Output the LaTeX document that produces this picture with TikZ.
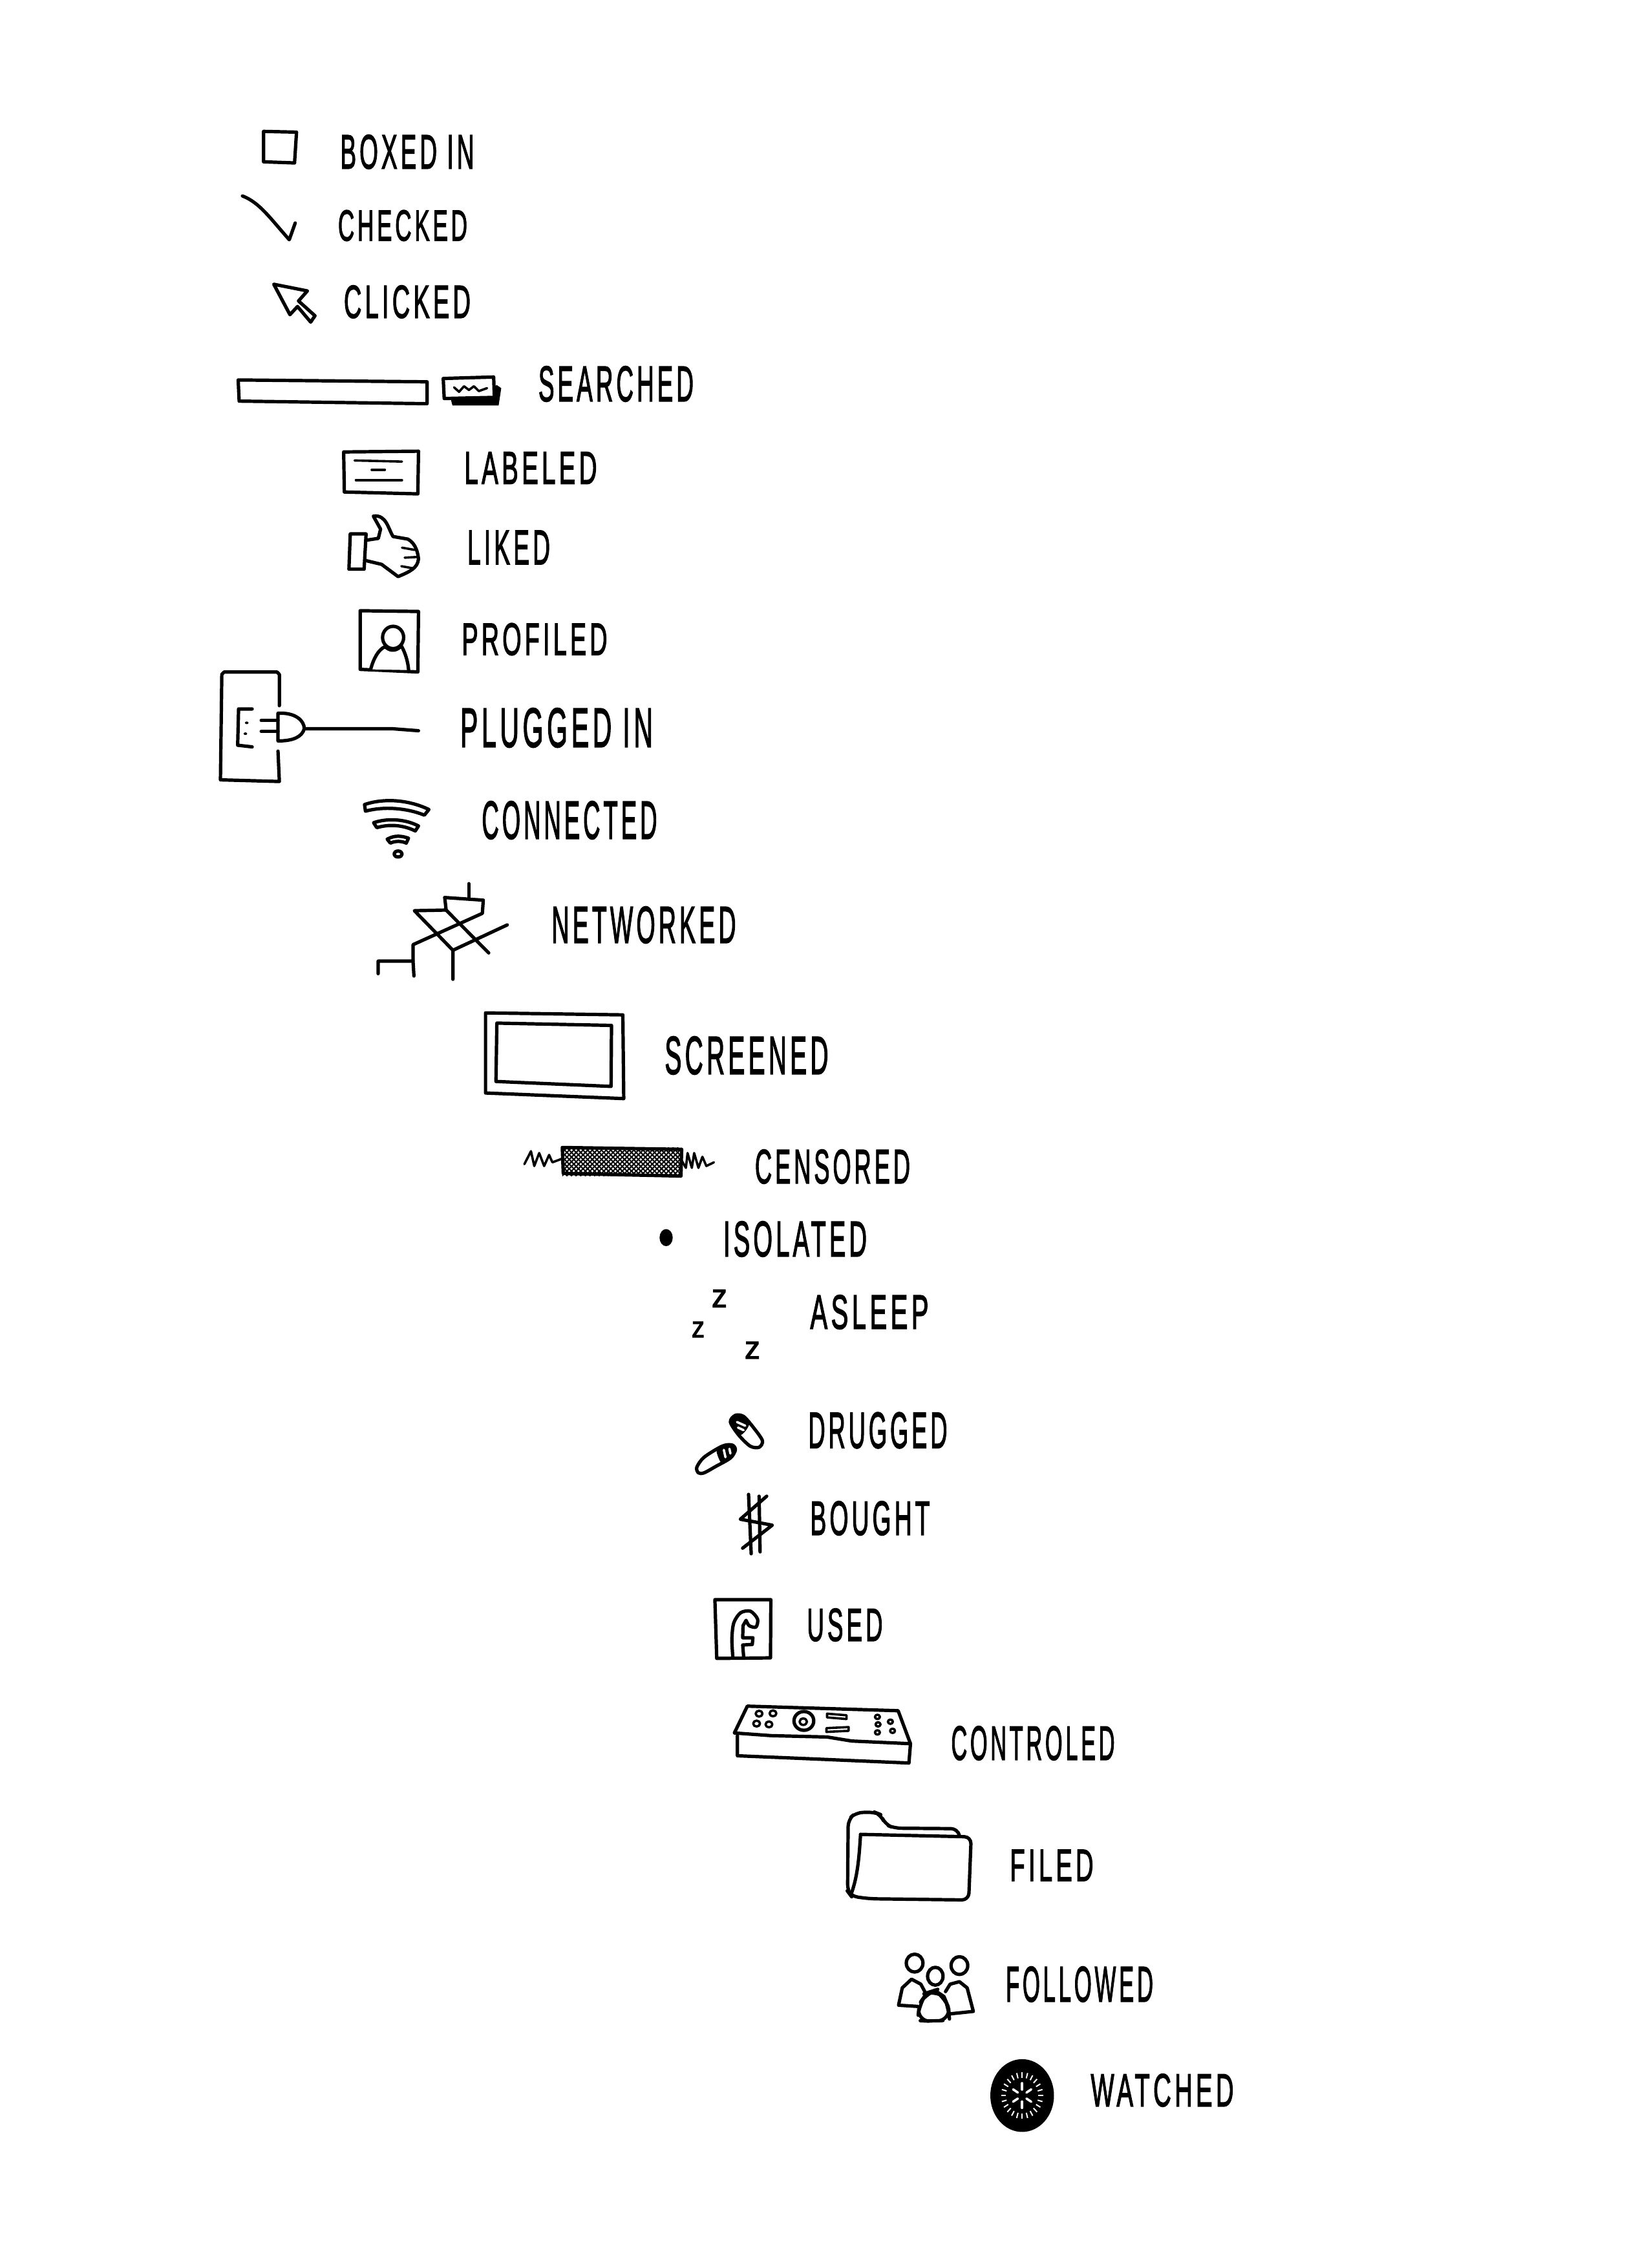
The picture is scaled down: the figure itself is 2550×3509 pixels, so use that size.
\documentclass[tikz,border=0pt]{standalone}
\usepackage{fontspec}
\usepackage{graphicx}
\setmainfont{Liberation Sans}
\newfontfamily\handfont[LetterSpace=14,FakeBold=2.5]{Liberation Sans}
\newlength{\pxu}
\setlength{\pxu}{0.01cm}
\newcommand{\fitword}[3]{\resizebox{#1\pxu}{#2\pxu}{\handfont #3}}
\tikzstyle{word} = [inner sep=0pt, text=black]
\tikzstyle{ink} = [line width=0.052cm, line join=round, line cap=round]
\tikzstyle{inkthin} = [line width=0.036cm, line join=round, line cap=round]
\begin{document}
\begin{tikzpicture}[x=0.01cm, y=-0.01cm]
    \useasboundingbox (0,0) rectangle (2550,3509);
    \node[word] (boxed) at (630,235) {\fitword{207}{52}{BOXED IN}};
    \node[word] (checked) at (623,349) {\fitword{200}{47}{CHECKED}};
    \node[word] (clicked) at (630,467) {\fitword{196}{50}{CLICKED}};
    \node[word] (searched) at (953,594) {\fitword{240}{54}{SEARCHED}};
    \node[word] (labeled) at (821,724) {\fitword{205}{49}{LABELED}};
    \node[word] (liked) at (787,847) {\fitword{128}{52}{LIKED}};
    \node[word] (profiled) at (827,989) {\fitword{225}{49}{PROFILED}};
    \node[word] (plugged) at (861,1126) {\fitword{298}{60}{PLUGGED IN}};
    \node[word] (connected) at (881,1269) {\fitword{271}{58}{CONNECTED}};
    \node[word] (networked) at (996,1431) {\fitword{285}{56}{NETWORKED}};
    \node[word] (screened) at (1155,1633) {\fitword{253}{58}{SCREENED}};
    \node[word] (censored) at (1288,1805) {\fitword{240}{52}{CENSORED}};
    \node[word] (isolated) at (1230,1917) {\fitword{222}{54}{ISOLATED}};
    \node[word] (asleep) at (1345,2030) {\fitword{183}{52}{ASLEEP}};
    \node[word] (drugged) at (1358,2213) {\fitword{215}{55}{DRUGGED}};
    \node[word] (bought) at (1346,2349) {\fitword{185}{52}{BOUGHT}};
    \node[word] (used) at (1307,2514) {\fitword{117}{50}{USED}};
    \node[word] (controled) at (1598,2697) {\fitword{253}{52}{CONTROLED}};
    \node[word] (filed) at (1627,2886) {\fitword{129}{48}{FILED}};
    \node[word] (followed) at (1670,3070) {\fitword{228}{54}{FOLLOWED}};
    \node[word] (watched) at (1798,3234) {\fitword{221}{50}{WATCHED}};
    \node[word] (zhigh) at (1113,2009) {\fitword{24}{27}{z}};
    \node[word] (zleft) at (1080,2057) {\fitword{20}{24}{z}};
    \node[word] (zlow) at (1164,2089) {\fitword{24}{26}{z}};
    \begin{scope}[shift={(320,170)}, xscale=0.51, yscale=0.574]
        \draw[ink] (172,58) -- (272,60) -- (266,143) -- (172,140) -- cycle;
        \draw[ink] (108,232) .. controls (160,250) and (190,290) .. (250,350) -- (268,305);
        \draw[ink] (203,470) -- (305,488) -- (278,515) -- (328,555) -- (315,572) -- (275,530) -- (252,552) -- cycle;
        \draw[ink] (95,728) -- (668,733) -- (668,792) -- (98,785) -- cycle;
        \fill (740,780) -- (880,742) -- (893,750) -- (885,797) -- (745,797) -- cycle;
        \draw[ink, fill=white] (717,724) -- (870,720) -- (872,775) -- (720,778) -- cycle;
        \draw[inkthin] (750,748) -- (765,760) -- (780,745) -- (795,755) -- (810,745) -- (825,758) -- (850,750);
        \draw[ink] (415,922) -- (642,920) -- (640,1035) -- (417,1030) -- cycle;
        \draw[inkthin] (448,945) -- (592,948);
        \draw[inkthin] (500,970) -- (540,970);
        \draw[inkthin] (452,998) -- (592,998);
        \draw[ink] (435,1143) -- (483,1143) -- (477,1238) -- (431,1238) -- cycle;
        \draw[ink] (483,1160) -- (520,1155) -- (527,1130) -- (505,1095) .. controls (545,1090) and (550,1130) .. (565,1150) -- (610,1157) .. controls (635,1170) and (640,1195) .. (642,1210) .. controls (640,1235) and (615,1245) .. (580,1258) -- (530,1225) -- (483,1215);
        \draw[inkthin] (592,1180) -- (630,1186);
        \draw[inkthin] (600,1207) -- (640,1205);
        \draw[inkthin] (590,1230) -- (628,1236);
        \draw[ink] (465,1350) -- (642,1352) -- (640,1515) -- (465,1508) -- cycle;
        \draw[ink] (565,1422) circle [x radius=32, y radius=30];
        \draw[ink, fill=white] (497,1508) .. controls (505,1480) and (520,1455) .. (540,1447) -- (545,1450) .. controls (560,1460) and (575,1458) .. (590,1445) .. controls (600,1460) and (610,1485) .. (612,1510);
    \end{scope}
    \begin{scope}[shift={(320,1000)}, xscale=0.701, yscale=0.51]
        \draw[ink] (160,180) -- (160,85) -- (155,78) -- (38,78) -- (33,85) -- (30,405) -- (160,410) -- (157,318);
        \draw[ink] (100,190) -- (70,190) -- (68,300) -- (100,305);
        \fill (88,232) circle [radius=4];
        \fill (85,265) circle [radius=4];
        \draw[ink] (120,225) -- (157,225);
        \draw[ink] (120,258) -- (157,258);
        \draw[ink] (157,203) .. controls (195,200) and (215,225) .. (215,250) .. controls (210,275) and (190,287) .. (157,287) -- cycle;
        \draw[ink] (215,250) -- (410,250) -- (467,256);
        \draw[ink] (348,480) .. controls (390,460) and (445,465) .. (490,495) -- (480,512) .. controls (440,490) and (390,485) .. (350,500) -- cycle;
        \draw[ink] (368,535) .. controls (400,520) and (440,525) .. (467,545) -- (460,560) .. controls (430,540) and (400,540) .. (375,550) -- cycle;
        \draw[ink] (398,585) .. controls (415,572) and (430,575) .. (445,582) -- (440,597) .. controls (430,590) and (415,590) .. (405,597) -- cycle;
        \draw[ink] (422,630) circle [radius=9];
        \draw[ink] (578,720) -- (578,765);
        \draw[ink] (525,762) -- (610,770) -- (608,810) -- (455,905) -- (455,955) -- (378,955) -- (378,993);
        \draw[ink] (525,762) -- (528,800) -- (458,802) -- (543,922) -- (543,1010);
        \draw[ink] (455,955) -- (457,1000);
        \draw[ink] (528,800) -- (622,930);
        \draw[ink] (543,922) -- (663,845);
        \draw[ink] (615,1112) -- (918,1118) -- (920,1372) -- (615,1355) -- cycle;
        \draw[ink] (640,1143) -- (893,1150) -- (892,1335) -- (638,1320) -- cycle;
    \end{scope}
    \begin{scope}[shift={(750,1540)}, xscale=0.51, yscale=0.574]
        \draw[inkthin] (120,455) -- (140,420) -- (150,460) -- (165,425) -- (180,460) -- (195,430) -- (205,450) -- (235,440);
        \draw[inkthin] (597,445) -- (610,465) -- (615,425) -- (628,465) -- (635,425) -- (648,465) -- (660,435) -- (672,460) -- (695,450);
        \begin{scope}
            \clip (235,410) rectangle (597,487);
            \foreach \d in {150,164,...,600} {
                \draw[line width=0.02cm] (\d,410) -- ({\d+86},487);
                \draw[line width=0.02cm] (\d,487) -- ({\d+86},410);
            }
        \end{scope}
        \draw[ink] (235,410) -- (597,415) -- (595,487) -- (238,480) -- cycle;
        \fill (550,653) circle [x radius=20, y radius=23];
        \draw[ink] plot[smooth cycle] coordinates {(745,1150) (760,1132) (785,1135) (815,1165) (842,1200) (832,1218) (805,1215) (770,1185)};
        \fill plot[smooth cycle] coordinates {(745,1150) (760,1132) (785,1135) (803,1152) (790,1175) (770,1185)};
        \draw[inkthin, white] (765,1150) -- (790,1160);
        \draw[inkthin, white] (768,1165) -- (785,1172);
        \draw[ink] plot[smooth cycle] coordinates {(643,1272) (665,1245) (720,1215) (750,1212) (760,1225) (745,1247) (700,1270) (665,1287) (648,1287)};
        \fill plot[smooth cycle] coordinates {(703,1228) (720,1215) (750,1212) (760,1225) (745,1247) (718,1260)};
        \draw[inkthin, white] (725,1225) -- (730,1245);
        \draw[inkthin, white] (742,1222) -- (745,1235);
        \draw[ink] (800,1345) -- (808,1505);
        \draw[ink] (832,1350) -- (835,1500);
        \draw[ink] (855,1350) -- (775,1412) -- (872,1428) -- (782,1490);
    \end{scope}
    \begin{scope}[shift={(1050,2150)}, xscale=0.478, yscale=0.415]
        \draw[ink] (117,783) -- (298,783) -- (297,1000) -- (123,1002) -- cycle;
        \draw[ink] plot[smooth] coordinates {(175,995) (172,930) (178,870) (200,832) (232,826) (255,855) (250,885) (228,880) (218,860)} -- (208,880) -- (207,925) -- (240,925) -- (238,950) -- (207,952) -- (210,995);
        \draw[ink] (180,1280) -- (222,1180) -- (710,1197) -- (750,1320) -- (560,1310) -- (480,1295) -- (300,1290) -- cycle;
        \draw[ink] (190,1290) -- (190,1365) -- (400,1375) -- (745,1392) -- (750,1320);
        \draw[inkthin] (260,1208) circle [radius=11];
        \draw[inkthin] (305,1207) circle [radius=11];
        \draw[inkthin] (252,1245) circle [radius=11];
        \draw[inkthin] (292,1248) circle [radius=11];
        \draw[ink] (405,1235) circle [x radius=32, y radius=35];
        \draw[inkthin] (403,1238) circle [radius=12];
        \draw[inkthin] (480,1208) -- (543,1214) -- (543,1228) -- (480,1222) -- cycle;
        \draw[inkthin] (478,1262) -- (550,1258) -- (550,1272) -- (478,1276) -- cycle;
        \draw[inkthin] (643,1220) circle [radius=8];
        \draw[inkthin] (645,1248) circle [radius=8];
        \draw[inkthin] (643,1278) circle [radius=8];
        \draw[inkthin] (685,1238) circle [radius=8];
        \draw[inkthin] (692,1272) circle [radius=8];
    \end{scope}
    \begin{scope}[shift={(1250,2750)}, xscale=0.478, yscale=0.383]
        \draw[ink, rounded corners=3pt] (490,235) -- (485,207) -- (280,205) -- (250,190) -- (235,150) -- (215,140) -- (155,142) -- (130,170) -- (128,460) -- (140,480) -- (200,490) -- (520,495) -- (528,240) -- (350,235) -- (170,230);
        \draw[ink] (170,230) .. controls (165,330) and (160,400) .. (140,470);
        \draw[ink] (345,750) circle [x radius=27, y radius=36];
        \draw[ink] (412,803) circle [x radius=25, y radius=36];
        \draw[ink] (490,760) circle [x radius=27, y radius=36];
        \draw[ink] (355,925) -- (293,920) -- (305,850) -- (335,815) -- (365,835) -- (380,870);
        \draw[ink] (445,865) -- (460,835) -- (490,825) -- (515,850) -- (535,945) -- (460,955);
        \draw[ink, rounded corners=5pt] (355,982) -- (360,915) -- (385,870) -- (410,860) -- (440,885) -- (455,930) -- (458,980) -- (400,985) -- cycle;
        \fill (693,1285) circle [x radius=103, y radius=147];
        \foreach \a in {0,15,...,345} {
            \draw[line width=0.02cm, white] ({693+52*cos(\a)},{1285+72*sin(\a)}) -- ({693+68*cos(\a)},{1285+94*sin(\a)});
        }
        \foreach \a in {30,90,...,330} {
            \draw[inkthin, white] ({693+16*cos(\a)},{1285+24*sin(\a)}) -- ({693+34*cos(\a)},{1285+50*sin(\a)});
        }
    \end{scope}
\end{tikzpicture}
\end{document}
